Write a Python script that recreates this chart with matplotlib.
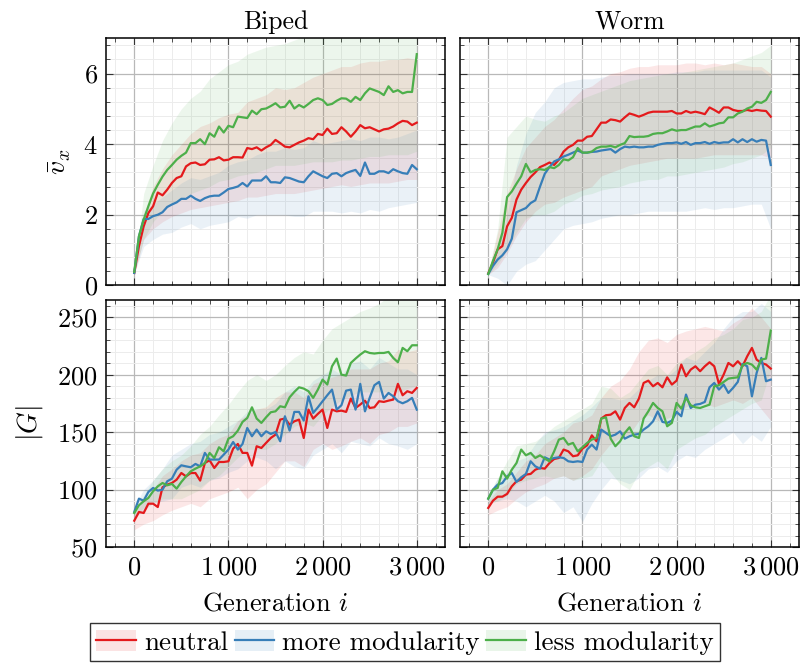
"""
  mean speed and genome size over generations, biped vs worm, three selection settings
"""

import numpy as np
import matplotlib
matplotlib.use("Agg")
import matplotlib.pyplot as plt
from matplotlib.lines import Line2D
from matplotlib.patches import Patch
from matplotlib.legend_handler import HandlerTuple
from matplotlib.ticker import MultipleLocator, FixedLocator, FixedFormatter


gen = np.arange(0, 3001, 50)
gen_band = np.arange(0, 3001, 100)

labels = ["neutral", "more modularity", "less modularity"]
colors = ["#e41a1c", "#377eb8", "#4daf4a"]
FS = 19

########################################################### biped speed ##########################################################
biped_v_neutral = [0.35, 1.11, 1.67, 2.05, 2.24, 2.63, 2.55, 2.71, 2.9, 3.04, 3.09, 3.37, 3.46, 3.48, 3.41, 3.43,
                   3.56, 3.57, 3.63, 3.54, 3.56, 3.63, 3.63, 3.62, 3.89, 3.86, 3.91, 3.82, 3.91, 3.98, 4.12,
                   4.03, 3.93, 3.91, 3.98, 4.05, 4.1, 4.17, 4.14, 4.29, 4.26, 4.44, 4.29, 4.31, 4.48, 4.36,
                   4.21, 4.36, 4.54, 4.45, 4.48, 4.42, 4.36, 4.42, 4.44, 4.5, 4.59, 4.66, 4.64, 4.54, 4.61]
biped_v_more = [0.35, 1.39, 1.88, 1.88, 1.96, 2.0, 2.07, 2.22, 2.29, 2.35, 2.45, 2.45, 2.54, 2.45, 2.39, 2.47,
                2.52, 2.54, 2.54, 2.63, 2.73, 2.76, 2.8, 2.9, 2.8, 2.97, 2.97, 2.97, 3.09, 2.92, 2.92,
                2.9, 3.06, 3.04, 2.99, 2.94, 2.92, 3.09, 3.23, 3.16, 3.09, 3.04, 3.16, 3.18, 3.09, 3.18,
                3.23, 3.27, 3.1, 3.48, 3.16, 3.16, 3.23, 3.23, 3.18, 3.29, 3.23, 3.18, 3.16, 3.41, 3.29]
biped_v_less = [0.38, 1.39, 1.86, 2.24, 2.6, 2.85, 3.08, 3.27, 3.41, 3.56, 3.67, 3.76, 4.03, 4.03, 4.14, 4.0,
                4.31, 4.21, 4.5, 4.33, 4.52, 4.48, 4.78, 4.76, 4.74, 4.95, 4.85, 4.99, 5.01, 5.08, 5.16,
                5.04, 5.06, 5.23, 5.01, 5.11, 5.04, 5.14, 5.25, 5.3, 5.25, 5.11, 5.14, 5.23, 5.3, 5.29,
                5.2, 5.34, 5.25, 5.44, 5.58, 5.53, 5.48, 5.39, 5.64, 5.48, 5.53, 5.44, 5.48, 5.48, 6.55]

biped_v_neutral_lo = [0.3, 1.3, 1.6, 1.8, 1.95, 2.05, 2.15, 2.2, 2.25, 2.3, 2.35, 2.4, 2.5, 2.5, 2.55, 2.6,
                      2.6, 2.6, 2.65, 2.7, 2.75, 2.8, 2.85, 2.8, 2.85, 2.9, 2.9, 2.9, 2.95, 3.0, 3.0]
biped_v_neutral_hi = [0.35, 2.0, 2.8, 3.3, 3.7, 4.0, 4.3, 4.5, 4.6, 4.75, 4.85, 4.9, 5.2, 5.3, 5.4, 5.6,
                      5.55, 5.6, 5.75, 5.9, 6.0, 6.1, 6.2, 6.2, 6.3, 6.35, 6.35, 6.4, 6.4, 6.45, 6.4]
biped_v_more_lo = [0.33, 1.1, 1.3, 1.45, 1.5, 1.65, 1.75, 1.6, 1.7, 1.75, 1.8, 1.95, 1.9, 2.0, 2.0, 2.0,
                   2.0, 1.95, 1.95, 2.1, 2.1, 2.1, 2.05, 2.1, 2.05, 2.15, 2.1, 2.2, 2.25, 2.3, 2.35]
biped_v_more_hi = [0.35, 2.1, 2.3, 2.5, 2.7, 2.9, 3.05, 3.0, 3.1, 3.2, 3.4, 3.5, 3.55, 3.7, 3.8, 3.8,
                   3.9, 3.85, 3.9, 4.1, 4.0, 4.05, 4.1, 4.15, 4.1, 4.2, 4.2, 4.15, 4.2, 4.3, 4.4]
biped_v_less_lo = [0.33, 1.3, 1.8, 2.1, 2.3, 2.45, 2.6, 2.7, 2.8, 2.95, 3.0, 3.1, 3.15, 3.2, 3.3, 3.4,
                   3.4, 3.4, 3.45, 3.5, 3.5, 3.5, 3.55, 3.55, 3.6, 3.65, 3.65, 3.7, 3.7, 3.7, 3.8]
biped_v_less_hi = [0.35, 2.6, 3.4, 4.1, 4.6, 5.0, 5.3, 5.5, 5.85, 6.05, 6.25, 6.35, 6.55, 6.65, 6.75, 6.8,
                   6.85, 6.95, 7.05, 7.1, 7.1, 7.1, 7.15, 7.2, 7.2, 7.3, 7.3, 7.35, 7.3, 7.3, 7.5]

########################################################### worm speed ##########################################################
worm_v_neutral = [0.34, 0.64, 1.02, 1.11, 1.67, 1.91, 2.43, 2.71, 2.9, 3.07, 3.2, 3.35, 3.41, 3.48, 3.41, 3.56,
                  3.79, 3.91, 3.98, 4.1, 4.1, 4.21, 4.23, 4.42, 4.61, 4.61, 4.7, 4.68, 4.64, 4.76, 4.87,
                  4.83, 4.78, 4.83, 4.89, 4.92, 4.92, 4.92, 4.92, 4.94, 4.87, 4.87, 4.94, 4.89, 4.92, 4.89,
                  4.85, 5.04, 4.97, 4.89, 5.04, 5.04, 4.97, 4.94, 4.94, 4.97, 4.94, 4.97, 4.95, 4.94, 4.78]
worm_v_more = [0.32, 0.55, 0.73, 0.85, 1.02, 1.32, 2.07, 2.13, 2.19, 2.33, 2.41, 2.8, 3.16, 3.35, 3.51, 3.57,
               3.65, 3.7, 3.76, 3.82, 3.76, 3.76, 3.78, 3.79, 3.82, 3.84, 3.86, 3.76, 3.86, 3.93, 3.91,
               3.93, 3.91, 3.91, 3.93, 3.93, 3.98, 4.01, 4.03, 4.03, 4.05, 4.01, 4.06, 3.98, 4.03, 4.03,
               4.06, 4.01, 4.06, 4.03, 4.05, 4.05, 4.14, 4.05, 4.14, 4.06, 4.14, 4.07, 4.12, 4.1, 3.41]
worm_v_less = [0.32, 0.69, 1.02, 1.49, 2.5, 2.66, 2.88, 3.09, 3.44, 3.2, 3.27, 3.29, 3.27, 3.35, 3.32, 3.41,
               3.57, 3.54, 3.63, 3.89, 3.76, 3.76, 3.79, 3.89, 3.93, 3.93, 3.95, 3.91, 3.98, 4.03, 4.23,
               4.2, 4.21, 4.21, 4.23, 4.29, 4.31, 4.31, 4.36, 4.42, 4.38, 4.4, 4.4, 4.45, 4.5, 4.5,
               4.59, 4.5, 4.54, 4.59, 4.61, 4.76, 4.76, 4.87, 4.92, 5.01, 5.06, 5.2, 5.17, 5.25, 5.48]

worm_v_neutral_lo = [0.3, 0.5, 0.9, 1.4, 1.8, 2.1, 2.3, 2.35, 2.5, 2.6, 2.7, 2.8, 3.1, 3.2, 3.3, 3.4,
                     3.45, 3.5, 3.55, 3.6, 3.6, 3.6, 3.6, 3.65, 3.7, 3.7, 3.7, 3.7, 3.7, 3.7, 3.6]
worm_v_neutral_hi = [0.35, 1.5, 2.6, 3.3, 3.9, 4.2, 4.5, 4.7, 5.0, 5.3, 5.55, 5.65, 5.85, 6.0, 6.05, 6.15,
                     6.2, 6.2, 6.25, 6.25, 6.25, 6.3, 6.3, 6.25, 6.3, 6.25, 6.3, 6.25, 6.2, 6.2, 6.0]
worm_v_more_lo = [0.3, 0.2, 0.0, 0.4, 0.6, 0.7, 1.0, 1.3, 1.6, 1.7, 1.75, 1.8, 1.9, 1.95, 2.0, 2.0,
                  2.05, 2.1, 2.1, 2.1, 2.1, 2.1, 2.15, 2.2, 2.15, 2.2, 2.2, 2.25, 2.3, 2.3, 1.6]
worm_v_more_hi = [0.35, 1.0, 2.0, 3.4, 4.3, 4.9, 5.2, 5.6, 5.75, 5.8, 5.85, 5.85, 5.9, 5.95, 5.95, 6.0,
                  6.0, 6.0, 6.0, 6.0, 6.05, 6.05, 6.05, 6.1, 6.1, 6.1, 6.1, 6.1, 6.1, 6.1, 5.9]
worm_v_less_lo = [0.3, 0.6, 1.0, 1.5, 1.9, 2.0, 2.0, 2.1, 2.3, 2.4, 2.55, 2.6, 2.7, 2.75, 2.8, 2.9,
                  2.95, 3.0, 3.0, 3.1, 3.1, 3.15, 3.2, 3.25, 3.3, 3.35, 3.45, 3.5, 3.6, 3.7, 3.9]
worm_v_less_hi = [0.35, 1.6, 4.2, 4.5, 4.8, 4.7, 4.65, 4.8, 4.9, 5.1, 5.3, 5.4, 5.5, 5.6, 5.7, 5.8,
                  5.85, 5.9, 5.95, 6.0, 6.0, 6.05, 6.1, 6.15, 6.2, 6.25, 6.3, 6.4, 6.5, 6.6, 6.8]

########################################################### biped genome size ##########################################################
biped_g_neutral = [72.9, 80.5, 79.6, 87.7, 87.7, 84.8, 102, 104.3, 105.7, 108.6, 114.4, 111.5, 114.4, 114.4, 107.8, 123.1,
                   125.5, 118.8, 124, 124, 124.6, 135.6, 139.7, 131.9, 131.9, 120.8, 137.7, 136.2, 140.6, 144.9, 147.8,
                   160.9, 161.8, 156.5, 159.4, 160.9, 144.9, 169.6, 161.8, 165.9, 169.6, 153.6, 169.6, 168.1, 168.7, 167.6,
                   179.2, 171, 174, 177.4, 171, 171.6, 176.9, 176.3, 177.4, 178.3, 192, 182.1, 185.6, 184.1, 188.5]
biped_g_more = [80.5, 92.1, 90.3, 97.9, 101.4, 99.1, 99.9, 107.2, 109.5, 117.3, 121.1, 120.2, 119.4, 122.3, 120.2, 131.9,
                126.1, 126.1, 126.1, 130.4, 134.8, 141.4, 134.8, 139.7, 153.6, 146.4, 152.2, 146.4, 150.7, 148.4, 150.1,
                142, 163.8, 151.3, 167.6, 167.6, 160, 181.2, 166.7, 171.6, 176.9, 182.1, 187, 169.6, 173.4, 186.1,
                187, 169.6, 192, 168.1, 179.8, 190.8, 193.7, 179.2, 184.1, 181.2, 176.9, 175.1, 176.9, 179.8, 169.6]
biped_g_less = [79.6, 86.3, 89.8, 92.7, 98.5, 102.8, 105.7, 103.7, 104.9, 100.8, 106.6, 111.5, 115.9, 118.2, 120.2, 123.1,
                131.9, 127.5, 136.8, 133.3, 144.3, 146.4, 151.3, 158.9, 162.3, 171.6, 161.8, 158, 162.9, 167.3, 168.1,
                172.5, 171.6, 180.3, 185, 189, 187.9, 185.6, 179.8, 187, 195.7, 191.4, 207.3, 214, 200, 199.2,
                210.2, 214, 217.5, 220.4, 218.9, 218.4, 218.9, 218.9, 219.8, 214.6, 210.8, 223.3, 220.4, 225.6, 225.6]

biped_g_neutral_lo = [65, 70, 73, 78, 82, 85, 88, 85, 92, 95, 98, 102, 92, 100, 105, 115,
                      125, 125, 120, 135, 140, 135, 138, 142, 145, 140, 148, 150, 155, 155, 158]
biped_g_neutral_hi = [80, 90, 100, 112, 118, 125, 130, 132, 140, 145, 148, 160, 165, 170, 172, 180,
                      185, 185, 180, 192, 195, 198, 200, 205, 205, 205, 210, 212, 222, 220, 222]
biped_g_more_lo = [75, 82, 88, 90, 92, 102, 105, 102, 108, 110, 115, 118, 125, 128, 125, 118,
                   125, 120, 118, 130, 135, 140, 132, 142, 140, 138, 145, 140, 138, 135, 140]
biped_g_more_hi = [85, 100, 108, 118, 130, 135, 140, 142, 148, 150, 155, 160, 168, 170, 170, 175,
                   185, 190, 185, 195, 200, 205, 200, 210, 212, 205, 215, 210, 205, 205, 200]
biped_g_less_lo = [77, 84, 88, 92, 92, 92, 96, 100, 108, 112, 120, 128, 135, 135, 135, 140,
                   148, 155, 158, 155, 165, 172, 178, 182, 185, 185, 185, 185, 185, 188, 190]
biped_g_less_hi = [82, 95, 108, 118, 125, 130, 138, 148, 155, 165, 174, 185, 195, 200, 195, 200,
                   208, 215, 220, 218, 230, 240, 245, 250, 255, 258, 262, 268, 270, 270, 272]

########################################################### worm genome size ##########################################################
worm_g_neutral = [84, 90.3, 93.8, 93.8, 96.2, 102.8, 107.2, 108.6, 113, 113.6, 117.3, 118.8, 118.2, 123.1, 126.6, 127.5,
                  134.8, 133.3, 129, 129.8, 135.6, 138.5, 147.2, 142, 161.8, 164.7, 165.2, 168.1, 160.9, 171, 175.4,
                  171.6, 179.2, 192.8, 194.8, 189.9, 192.8, 189, 197.7, 191.4, 194.8, 208.8, 198.6, 204.4, 207.3, 203,
                  207.3, 210.8, 207.3, 191.9, 200.1, 210.2, 207.3, 211.7, 207.3, 216, 223.3, 213.1, 210.2, 208.8, 205.3]
worm_g_more = [92.1, 99.9, 104.3, 105.7, 111.5, 114.4, 106.6, 110.7, 113.6, 124.6, 120.2, 118.2, 128.1, 126.1, 127.5, 128.1,
               127.5, 124.6, 124, 124.6, 124, 134.8, 139.1, 134.8, 152.2, 149.3, 146.4, 147.8, 150.7, 144.3, 146.4,
               147.8, 148.4, 152.2, 155.1, 159.4, 168.1, 158.9, 158, 160, 167.6, 163.8, 182.7, 171, 173.9, 174.5,
               176.3, 189, 192.8, 187, 191.4, 184.1, 188.5, 193.7, 209.4, 207.3, 181.2, 201.5, 214.6, 194.3, 195.7]
worm_g_less = [92.1, 99.9, 101.4, 115.9, 109.5, 117.3, 123.1, 134.8, 129.8, 131.9, 127.5, 129.8, 126.9, 124.6, 133.3, 143.5,
               144.9, 139.1, 140.6, 133.3, 136.8, 140.6, 143.5, 144.9, 161.8, 162.9, 144.3, 137.7, 142, 149.3, 154.2,
               146.4, 144.9, 161.8, 168.1, 175.4, 171, 168.1, 155.1, 158, 175.4, 170.5, 179.8, 173.4, 171.6, 171,
               172.5, 173.9, 189.9, 190.8, 193.7, 196.6, 197.2, 197.7, 208.2, 210.2, 208.8, 204.4, 213.1, 214, 238.4]

worm_g_neutral_lo = [78, 82, 85, 92, 98, 102, 105, 110, 112, 108, 112, 118, 130, 140, 145, 148,
                     160, 165, 160, 162, 165, 172, 175, 175, 172, 175, 178, 175, 180, 170, 160]
worm_g_neutral_hi = [90, 100, 105, 115, 125, 130, 140, 145, 150, 158, 160, 165, 180, 190, 195, 205,
                     220, 230, 232, 228, 235, 238, 240, 242, 240, 238, 245, 250, 258, 250, 240]
worm_g_more_lo = [88, 90, 92, 90, 85, 90, 95, 90, 80, 85, 72, 88, 100, 110, 108, 105,
                  110, 118, 120, 115, 125, 130, 128, 135, 140, 145, 150, 140, 148, 142, 155]
worm_g_more_hi = [95, 110, 115, 125, 128, 140, 150, 152, 155, 160, 165, 172, 180, 180, 178, 180,
                  188, 195, 200, 198, 205, 215, 212, 220, 228, 240, 250, 255, 255, 262, 255]
worm_g_less_lo = [88, 90, 95, 105, 108, 110, 112, 110, 112, 108, 110, 112, 125, 115, 105, 100,
                  115, 120, 125, 118, 135, 140, 145, 148, 155, 160, 165, 170, 175, 178, 205]
worm_g_less_hi = [95, 110, 125, 138, 140, 142, 148, 155, 160, 165, 170, 175, 190, 188, 180, 185,
                  195, 205, 208, 200, 210, 215, 220, 225, 232, 235, 240, 248, 250, 255, 270]


def plot_panel(ax, means, bands):
  for (lo, hi), c in zip(bands, colors):
    ax.fill_between(gen_band, lo, hi, color=c, alpha=0.1, linewidth=0)
  for m, c in zip(means, colors):
    ax.plot(gen, m, color=c, linewidth=1.6)

  ax.set_xlim(-300, 3300)
  ax.xaxis.set_major_locator(FixedLocator([0, 1000, 2000, 3000]))
  ax.xaxis.set_major_formatter(FixedFormatter(["$0$", r"$1\,000$", r"$2\,000$", r"$3\,000$"]))
  ax.xaxis.set_minor_locator(MultipleLocator(200))
  ax.tick_params(which="both", direction="in", top=True, right=True, labelsize=FS, color="#333333", pad=6)
  ax.tick_params(which="major", length=5, width=0.8)
  ax.tick_params(which="minor", length=3, width=0.6)
  ax.grid(which="major", color="#b8b8b8", linewidth=0.9)
  ax.grid(which="minor", color="#ececec", linewidth=0.7)
  ax.set_axisbelow(True)
  for s in ax.spines.values():
    s.set_linewidth(1.1)


def plot_all():
  plt.rcParams["font.family"] = "serif"
  plt.rcParams["font.serif"] = ["cmr10", "DejaVu Serif"]
  plt.rcParams["mathtext.fontset"] = "cm"
  plt.rcParams["axes.formatter.use_mathtext"] = True

  fig = plt.figure(figsize=(8.02, 6.64), dpi=100)
  w, h = 339 / 802, 247 / 664
  ax_tl = fig.add_axes([106 / 802, 378.7 / 664, w, h])
  ax_tr = fig.add_axes([460 / 802, 378.7 / 664, w, h])
  ax_bl = fig.add_axes([106 / 802, 117 / 664, w, h])
  ax_br = fig.add_axes([460 / 802, 117 / 664, w, h])

  plot_panel(ax_tl, [biped_v_neutral, biped_v_more, biped_v_less],
             [(biped_v_neutral_lo, biped_v_neutral_hi), (biped_v_more_lo, biped_v_more_hi), (biped_v_less_lo, biped_v_less_hi)])
  plot_panel(ax_tr, [worm_v_neutral, worm_v_more, worm_v_less],
             [(worm_v_neutral_lo, worm_v_neutral_hi), (worm_v_more_lo, worm_v_more_hi), (worm_v_less_lo, worm_v_less_hi)])
  plot_panel(ax_bl, [biped_g_neutral, biped_g_more, biped_g_less],
             [(biped_g_neutral_lo, biped_g_neutral_hi), (biped_g_more_lo, biped_g_more_hi), (biped_g_less_lo, biped_g_less_hi)])
  plot_panel(ax_br, [worm_g_neutral, worm_g_more, worm_g_less],
             [(worm_g_neutral_lo, worm_g_neutral_hi), (worm_g_more_lo, worm_g_more_hi), (worm_g_less_lo, worm_g_less_hi)])

  for ax in (ax_tl, ax_tr):
    ax.set_ylim(0, 7)
    ax.yaxis.set_major_locator(MultipleLocator(2))
    ax.yaxis.set_minor_locator(MultipleLocator(0.4))
    ax.tick_params(labelbottom=False)
  for ax in (ax_bl, ax_br):
    ax.set_ylim(50, 265)
    ax.yaxis.set_major_locator(MultipleLocator(50))
    ax.yaxis.set_minor_locator(MultipleLocator(10))
    ax.set_xlabel("Generation $i$", fontsize=FS, labelpad=9)
  for ax in (ax_tr, ax_br):
    ax.tick_params(labelleft=False)

  ax_tl.set_title("Biped", fontsize=18.5, pad=7)
  ax_tr.set_title("Worm", fontsize=18.5, pad=7)
  ax_tl.set_ylabel(r"$\bar{v}_x$", fontsize=FS + 1, labelpad=7)
  ax_bl.set_ylabel(r"$|G|$", fontsize=FS + 1, labelpad=9)

  handles = [(Patch(facecolor=c, alpha=0.12, linewidth=0), Line2D([], [], color=c, linewidth=1.6)) for c in colors]
  leg = fig.legend(handles, labels, loc="lower center", bbox_to_anchor=(0.505, 0.004), ncol=3, fontsize=FS + 0.5,
                   handler_map={tuple: HandlerTuple(ndivide=1)}, handlelength=1.45, handleheight=0.8,
                   handletextpad=0.3, columnspacing=0.25, borderpad=0.25, borderaxespad=0.0,
                   fancybox=False, framealpha=1)
  leg.get_frame().set_edgecolor("#333333")
  leg.get_frame().set_linewidth(1.0)

  fig.savefig("out.png", dpi=100)


if __name__ == "__main__":
  plot_all()
